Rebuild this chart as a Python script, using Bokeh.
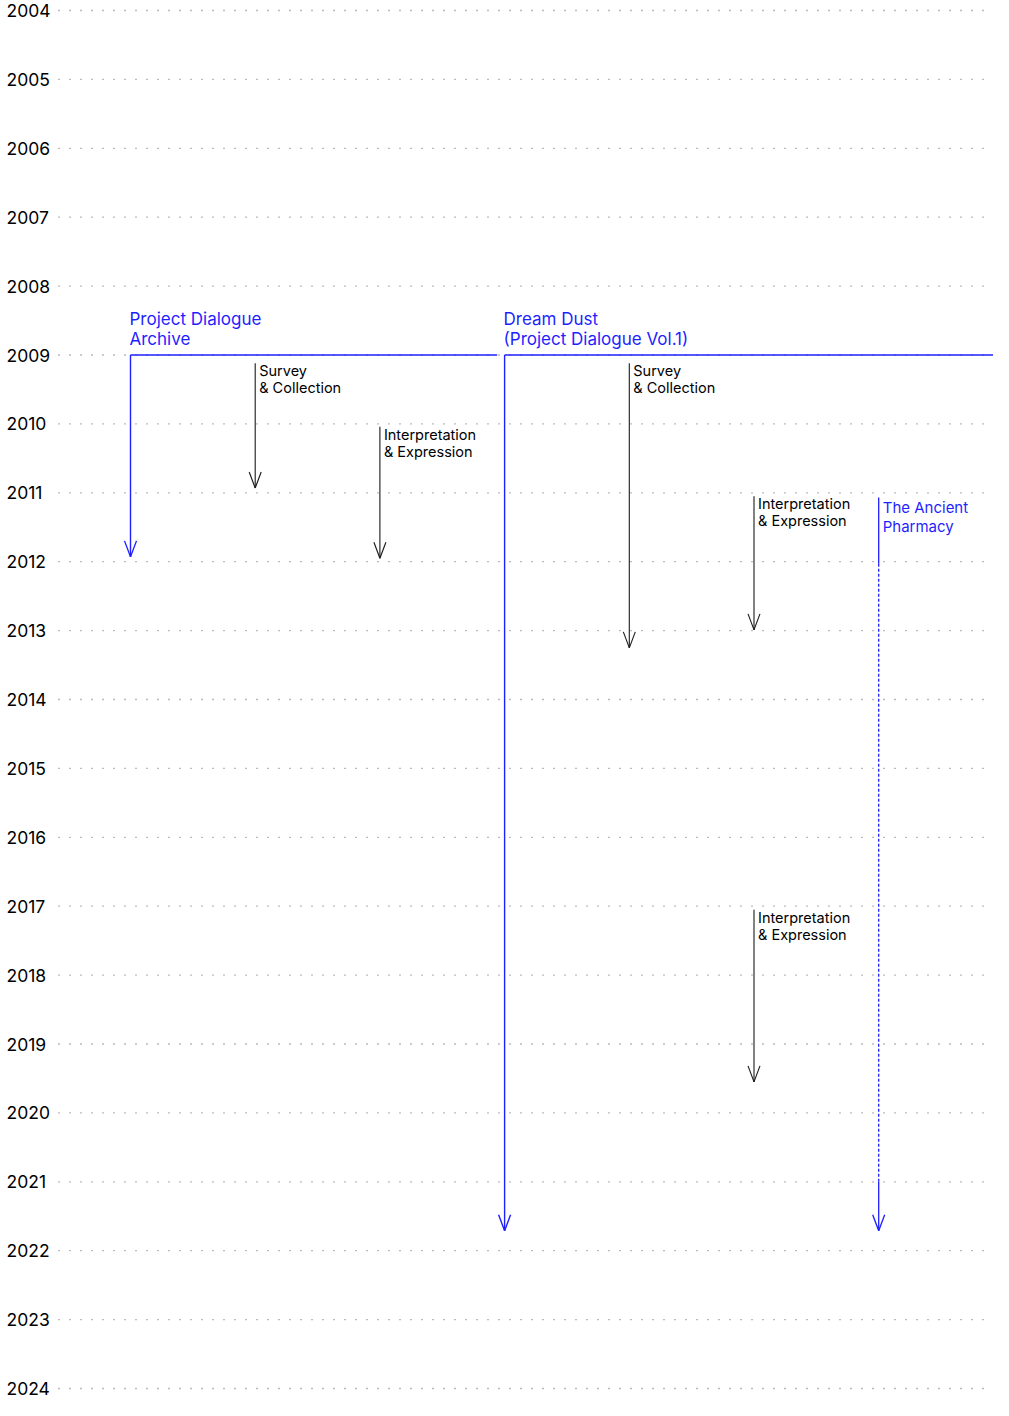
import math
from bokeh.plotting import figure
from bokeh.models import Range1d
from bokeh.core.properties import value
from bokeh.embed import file_html
from bokeh.resources import INLINE

# ---------------- data ----------------
years = list(range(2004, 2025))
year_labels = [str(y) for y in years]

project_names = ["Project Dialogue\nArchive", "Dream Dust\n(Project Dialogue Vol.1)"]
project_cols = [0, 3]
project_starts = [2009.0, 2009.0]
project_ends = [2011.93, 2021.71]
project_span_ends = [2.94, 7.0]

pharmacy_name = "The Ancient\nPharmacy"
pharmacy_col = 6
pharmacy_start = 2011.07
pharmacy_dotted_from = 2012.03
pharmacy_dotted_to = 2021.0
pharmacy_end = 2021.71

phase_labels = ["Survey\n& Collection", "Interpretation\n& Expression",
                "Survey\n& Collection", "Interpretation\n& Expression",
                "Interpretation\n& Expression"]
phase_cols = [1, 2, 4, 5, 5]
phase_starts = [2009.12, 2010.04, 2009.12, 2011.05, 2017.05]
phase_ends = [2010.93, 2011.95, 2013.25, 2012.99, 2019.55]

# ---------------- style ----------------
BLUE = "#1f1fff"
DARK = "#1a1a1a"
FONT = value("Inter")
W, H = 993, 1400
COL_PX = 124.7
YEAR_PX = 68.9
x0 = -130 / COL_PX
x1 = x0 + W / COL_PX
y_top = 2004 - 10 / YEAR_PX
y_bot = y_top + H / YEAR_PX

p = figure(width=W, height=H, output_backend="svg", toolbar_location=None,
           x_range=Range1d(x0, x1), y_range=Range1d(y_bot, y_top),
           x_axis_location=None, y_axis_location=None, min_border=0,
           tools="")
p.outline_line_color = None
p.grid.visible = False
p.background_fill_color = "white"

# dotted year lines
grid_start = -(130 - 58) / COL_PX
p.segment(x0=[grid_start] * len(years), y0=years, x1=[7.2] * len(years), y1=years,
          line_color="#777777", line_width=1.3, line_dash="1 10")

# year labels
p.text(x=[x0] * len(years), y=years, text=year_labels, text_font=FONT,
       text_font_size="17.5px", text_color="#000000", text_baseline="middle",
       text_align="left", x_offset=6)

HEAD_ANG = math.atan(6 / 16)
HEAD_LEN = math.hypot(6, 16)

def arrow_head(x, y, color, lw):
    p.ray(x=[x, x], y=[y, y], length=HEAD_LEN, length_units="screen",
          angle=[math.pi / 2 - HEAD_ANG, math.pi / 2 + HEAD_ANG],
          line_color=color, line_width=lw)

# projects: horizontal span + vertical arrow
for name, c, s, e, se in zip(project_names, project_cols, project_starts,
                             project_ends, project_span_ends):
    p.segment(x0=[c], y0=[s], x1=[se], y1=[s], line_color=BLUE, line_width=1.5)
    p.segment(x0=[c], y0=[s], x1=[c], y1=[e], line_color=BLUE, line_width=1.4)
    arrow_head(c, e, BLUE, 1.4)
    p.text(x=[c], y=[s], text=[name], text_font=FONT, text_font_size="17px",
           text_color=BLUE, text_baseline="bottom", text_align="left",
           x_offset=-1, y_offset=-6, text_line_height=1.0)

# The Ancient Pharmacy
p.segment(x0=[pharmacy_col, pharmacy_col], y0=[pharmacy_start, pharmacy_dotted_to],
          x1=[pharmacy_col, pharmacy_col], y1=[pharmacy_dotted_from, pharmacy_end],
          line_color=BLUE, line_width=1.3)
p.segment(x0=[pharmacy_col], y0=[pharmacy_dotted_from], x1=[pharmacy_col],
          y1=[pharmacy_dotted_to], line_color=BLUE, line_width=1.3, line_dash="3 2")
arrow_head(pharmacy_col, pharmacy_end, BLUE, 1.3)
p.text(x=[pharmacy_col], y=[pharmacy_start], text=[pharmacy_name], text_font=FONT,
       text_font_size="15px", text_color=BLUE, text_baseline="top",
       text_align="left", x_offset=4, y_offset=0, text_line_height=1.0)

# phases
p.segment(x0=phase_cols, y0=phase_starts, x1=phase_cols, y1=phase_ends,
          line_color=DARK, line_width=1.1)
for c, e in zip(phase_cols, phase_ends):
    arrow_head(c, e, DARK, 1.1)
p.text(x=phase_cols, y=phase_starts, text=phase_labels, text_font=FONT,
       text_font_size="14.5px", text_color="#000000", text_baseline="top",
       text_align="left", x_offset=4, y_offset=-1, text_line_height=1.0)

open("out.html", "w").write(file_html(p, INLINE))
